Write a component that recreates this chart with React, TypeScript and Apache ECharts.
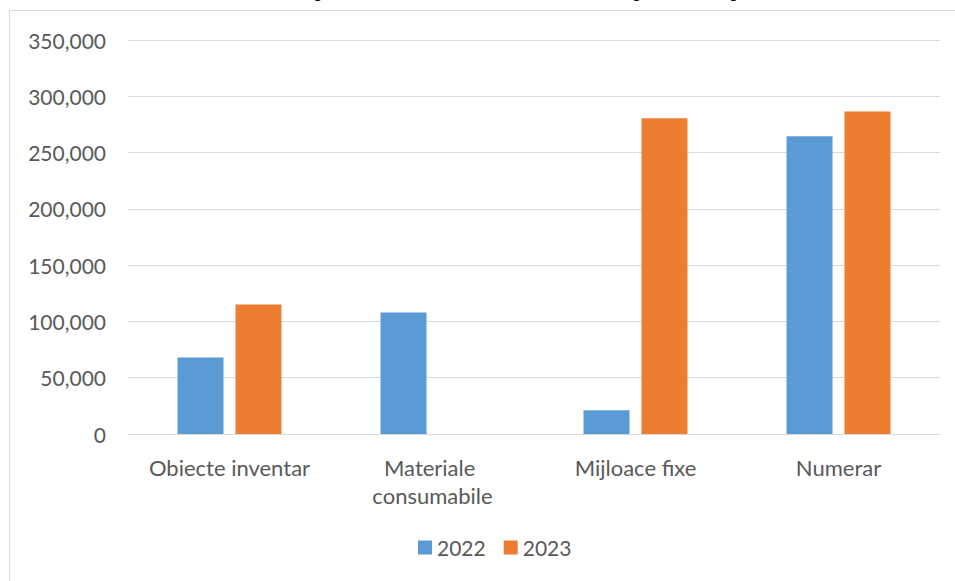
import React, { useEffect, useRef } from "react";
import * as echarts from "echarts";

const titleText = "Structura patrimoniului în total, anii 2022, 2023 a perioadei raportate";
const categories = ["Obiecte inventar", "Materiale consumabile", "Mijloace fixe", "Numerar"];
const seriesNames = ["2022", "2023"];
const values2022 = [68000, 108000, 21000, 264500];
const values2023 = [115000, 0, 280500, 286500];
const yMin = 0;
const yMax = 350000;
const yStep = 50000;

const FONT = "Lato";
const GRAY = "#595959";

export default function App() {
  const ref = useRef<HTMLDivElement>(null);
  useEffect(() => {
    document.body.style.margin = "0";
    if (!ref.current) return;
    const chart = echarts.init(ref.current, undefined, { renderer: "svg" });
    chart.setOption({
      animation: false,
      backgroundColor: "#ffffff",
      color: ["#5B9BD5", "#ED7D31"],
      graphic: [
        {
          type: "rect",
          shape: { x: 9.5, y: 10.5, width: 1200, height: 1000 },
          style: { fill: "none", stroke: "#d9d9d9", lineWidth: 1 },
          silent: true,
          z: -1,
        },
        {
          type: "text",
          x: 232.6,
          y: -10,
          style: {
            text: titleText,
            fontFamily: "Liberation Serif",
            fontWeight: "bold",
            fontSize: 18.67,
            fill: "#000000",
            textAlign: "left",
            textVerticalAlign: "middle",
          },
          silent: true,
        },
      ],
      legend: {
        data: seriesNames,
        left: 418,
        top: 537,
        padding: 0,
        itemWidth: 14,
        itemHeight: 14,
        itemGap: 18,
        icon: "rect",
        textStyle: { fontFamily: FONT, fontSize: 21, color: GRAY, lineHeight: 21 },
      },
      grid: { left: 128, right: 15, top: 40, bottom: 147, containLabel: false },
      xAxis: {
        type: "category",
        data: categories,
        axisLine: { show: true, lineStyle: { color: "#d9d9d9", width: 1 } },
        axisTick: { show: false },
        axisLabel: {
          interval: 0,
          margin: 19,
          fontFamily: FONT,
          fontSize: 22,
          color: GRAY,
          lineHeight: 28,
          width: 190,
          overflow: "break",
          verticalAlign: "top",
        },
      },
      yAxis: {
        type: "value",
        min: yMin,
        max: yMax,
        interval: yStep,
        axisLine: { show: false },
        axisTick: { show: false },
        splitLine: { lineStyle: { color: "#d9d9d9", width: 1 } },
        axisLabel: {
          margin: 22,
          fontFamily: FONT,
          fontSize: 21,
          color: GRAY,
          formatter: (v: number) => v.toLocaleString("en-US"),
        },
      },
      series: [
        {
          name: seriesNames[0],
          type: "bar",
          data: values2022,
          barWidth: 46,
          barGap: "26%",
        },
        {
          name: seriesNames[1],
          type: "bar",
          data: values2023,
          barWidth: 46,
          barGap: "26%",
        },
      ],
    });
    return () => chart.dispose();
  }, []);
  return <div ref={ref} style={{ width: 955, height: 581 }} />;
}
